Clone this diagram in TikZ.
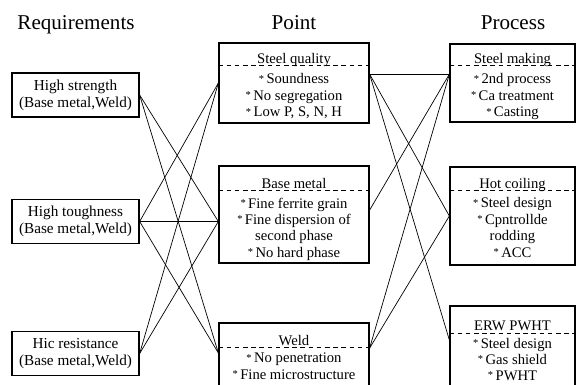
\documentclass[tikz,border=0pt]{standalone}
\usepackage{fontspec}
\setmainfont{Liberation Serif}
\newcommand{\itm}{\raisebox{0.25ex}{\small*}\,}
\begin{document}
\begin{tikzpicture}[
    x=0.03cm, y=-0.03cm,
    heading/.style={font=\fontsize{18}{20}\selectfont, anchor=base},
    reqbox/.style={draw, line width=1.1pt, minimum width=3.81cm, minimum height=1.32cm, align=center, inner sep=1pt, font=\fontsize{13}{14.5}\selectfont},
    pointbox/.style={draw, line width=1.1pt, minimum width=4.5cm},
    procbox/.style={draw, line width=1.1pt, minimum width=3.75cm},
    header/.style={anchor=base, inner sep=0pt, font=\fontsize{12.5}{14}\selectfont},
    items/.style={anchor=north, align=center, inner sep=0pt, font=\fontsize{12.5}{14}\selectfont},
    divider/.style={dash pattern=on 4pt off 3pt, line width=0.6pt},
    link/.style={line width=0.6pt}
]
\useasboundingbox (0,0) rectangle (576,385);

\node[heading] (t1) at (76,29) {Requirements};
\node[heading] (t2) at (294,29) {Point};
\node[heading] (t3) at (513,29) {Process};

\node[reqbox] (hs) at (75.5,95) {High strength\\(Base metal,Weld)};
\node[reqbox] (ht) at (75.5,221.5) {High toughness\\(Base metal,Weld)};
\node[reqbox] (hic) at (75.5,353.5) {Hic resistance\\(Base metal,Weld)};

\node[pointbox, minimum height=2.4cm] (sq) at (294,83) {};
\node[header] (sqh) at (294,63) {Steel quality};
\draw[divider] (sq.west |- 0,65) -- (sq.east |- 0,65);
\node[items] (sqi) at (294,73.5) {\itm Soundness\\\itm No segregation\\\itm Low P, S, N, H};

\node[pointbox, minimum height=2.91cm] (bm) at (294,214.5) {};
\node[header] (bmh) at (294,188) {Base metal};
\draw[divider] (bm.west |- 0,190) -- (bm.east |- 0,190);
\node[items] (bmi) at (294,197.5) {\itm Fine ferrite grain\\\itm Fine dispersion of\\second phase\\\itm No hard phase};

\node[pointbox, minimum height=2.01cm] (we) at (294,356.5) {};
\node[header] (weh) at (294,345) {Weld};
\draw[divider] (we.west |- 0,347) -- (we.east |- 0,347);
\node[items] (wei) at (294,353) {\itm No penetration\\\itm Fine microstructure};

\node[procbox, minimum height=2.34cm] (sm) at (512.5,83) {};
\node[header] (smh) at (512.5,63) {Steel making};
\draw[divider] (sm.west |- 0,65) -- (sm.east |- 0,65);
\node[items] (smi) at (512.5,73.5) {\itm 2nd process\\\itm Ca treatment\\\itm Casting};

\node[procbox, minimum height=2.94cm] (hc) at (512.5,216) {};
\node[header] (hch) at (512.5,188) {Hot coiling};
\draw[divider] (hc.west |- 0,190) -- (hc.east |- 0,190);
\node[items] (hci) at (512.5,197.5) {\itm Steel design\\\itm Cpntrollde\\rodding\\\itm ACC};

\node[procbox, minimum height=2.52cm] (erw) at (512.5,348) {};
\node[header] (erwh) at (512.5,330) {ERW PWHT};
\draw[divider] (erw.west |- 0,333) -- (erw.east |- 0,333);
\node[items, font=\fontsize{12.5}{13.5}\selectfont] (erwi) at (512.5,338) {\itm Steel design\\\itm Gas shield\\\itm PWHT};

\coordinate (bmL) at (bm.west |- ht.east);
\coordinate (weL) at ([yshift=3pt]we.west);
\coordinate (sqR) at ([yshift=7.5pt]sq.east);
\coordinate (smL) at (sm.west |- sqR);
\coordinate (bmR) at ([yshift=3.8pt]bm.east);
\coordinate (weR) at ([yshift=7.2pt]we.east);
\coordinate (erwL) at ([yshift=6.8pt]erw.west);

\draw[link] (hs.east) -- (bmL);
\draw[link] (hs.east) -- (weL);
\draw[link] (ht.east) -- (sq.west);
\draw[link] (ht.east) -- (bmL);
\draw[link] (ht.east) -- (weL);
\draw[link] (hic.east) -- (sq.west);
\draw[link] (hic.east) -- (bmL);

\draw[link] (sqR) -- (smL);
\draw[link] (sqR) -- (hc.west);
\draw[link] (sqR) -- (erwL);
\draw[link] (bmR) -- (smL);
\draw[link] (weR) -- (smL);
\draw[link] (weR) -- (hc.west);
\end{tikzpicture}
\end{document}
